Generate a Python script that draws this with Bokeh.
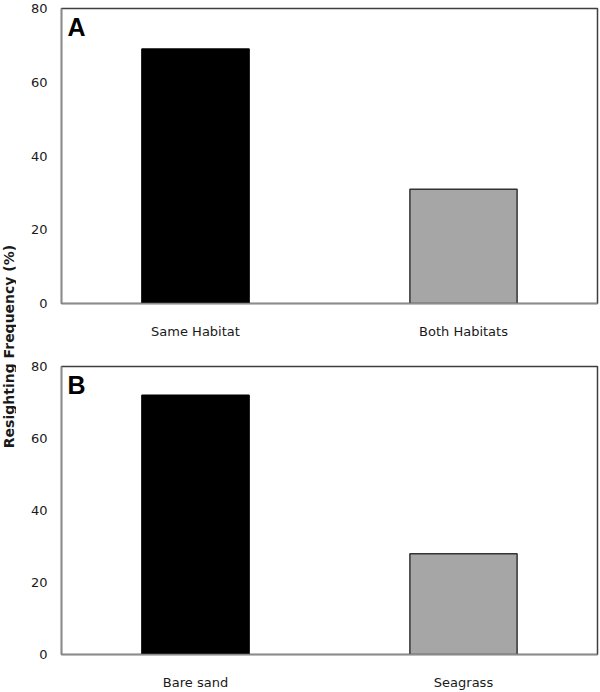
from bokeh.plotting import figure
from bokeh.models import FactorRange, Range1d, Label, ColumnDataSource
from bokeh.layouts import row, column
from bokeh.embed import file_html
from bokeh.resources import INLINE
from bokeh.core.properties import value
import math

# Data
cats_a = ["Same Habitat", "Both Habitats"]
vals_a = [69, 31]
cats_b = ["Bare sand", "Seagrass"]
vals_b = [72, 28]
colors = ["#000000", "#a6a6a6"]
line_colors = ["#000000", "#333333"]
y_ticks = [0, 20, 40, 60, 80]
y_label = "Resighting Frequency (%)"
panel_letters = ["A", "B"]

FONT = "DejaVu Sans"


def make_panel(cats, vals, letter, height, bottom):
    p = figure(x_range=FactorRange(*cats, range_padding=0), y_range=Range1d(0, 80),
               width=584, height=height, output_backend="svg", toolbar_location=None,
               min_border_left=45, min_border_right=3, min_border_top=8, min_border_bottom=bottom)
    src = ColumnDataSource(dict(x=cats, top=vals, fill=colors, line=line_colors))
    p.vbar(x="x", top="top", width=0.4, source=src, fill_color="fill",
           line_color="line", line_width=1.5)
    p.xgrid.visible = False
    p.ygrid.visible = False
    p.outline_line_color = "#3f3f3f"
    p.outline_line_width = 1.5
    p.yaxis.ticker = y_ticks
    for ax in (p.xaxis[0], p.yaxis[0]):
        ax.axis_line_color = "#8c8c8c"
        ax.axis_line_width = 1.5
        ax.major_tick_line_color = None
        ax.minor_tick_line_color = None
        ax.major_label_text_font = FONT
        ax.major_label_text_font_size = "13px"
        ax.major_label_text_color = "#1a1a1a"
    p.yaxis.major_label_standoff = 8
    p.xaxis.major_label_standoff = 14
    p.background_fill_color = "white"
    p.border_fill_color = "white"
    lab = Label(x=0, y=80, x_offset=6, y_offset=-4, text=letter,
                text_font="Liberation Sans", text_font_style="bold",
                text_font_size="25px", text_baseline="top", text_color="black")
    p.add_layout(lab)
    return p


pa = make_panel(cats_a, vals_a, panel_letters[0], 358, 55)
pb = make_panel(cats_b, vals_b, panel_letters[1], 334, 31)

lf = figure(width=16, height=692, x_range=Range1d(0, 1), y_range=Range1d(0, 1),
            output_backend="svg", toolbar_location=None,
            min_border=0, min_border_left=0, min_border_right=0,
            min_border_top=0, min_border_bottom=0)
lf.axis.visible = False
lf.grid.visible = False
lf.outline_line_color = None
lf.text(x=[0.5], y=[0.5], text=[y_label], angle=math.pi / 2,
        text_font=value(FONT), text_font_style="bold", text_font_size="14px",
        text_align="center", text_baseline="middle", text_color="#1a1a1a")

layout = row(lf, column(pa, pb, spacing=0), spacing=0)

open("out.html", "w").write(file_html(layout, INLINE))
